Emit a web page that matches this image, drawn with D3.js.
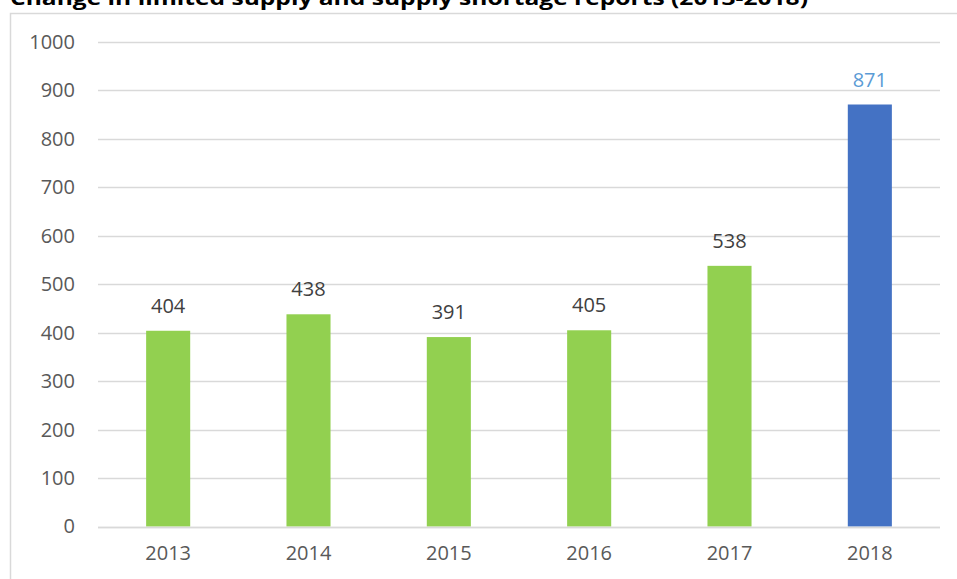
<html>
<head>
<script src="https://d3js.org/d3.v7.min.js"></script>
<style>
  body { margin: 0; background: #fff; }
  text { font-family: "Open Sans", "Liberation Sans", sans-serif; }
</style>
</head>
<body>
<script>
var years = ["2013", "2014", "2015", "2016", "2017", "2018"];
var reports = [404, 438, 391, 405, 538, 871];
var barColors = ["#92d050", "#92d050", "#92d050", "#92d050", "#92d050", "#4472c4"];
var labelColors = ["#404040", "#404040", "#404040", "#404040", "#404040", "#5b9bd5"];
var yTicks = [0, 100, 200, 300, 400, 500, 600, 700, 800, 900, 1000];
var title = "Change in limited supply and supply shortage reports (2013-2018)";

var w = 957, h = 579;
var plotL = 98, plotR = 940, plotT = 42, plotB = 526.5;

var svg = d3.select("body").append("svg").attr("width", w).attr("height", h);

// chart frame
svg.append("rect")
  .attr("x", 10.5).attr("y", 13.5)
  .attr("width", 960).attr("height", 600)
  .attr("fill", "none").attr("stroke", "#d9d9d9").attr("stroke-width", 1.5);

svg.append("text")
  .attr("x", 10).attr("y", 5)
  .attr("font-size", "20px").attr("font-weight", "bold")
  .attr("fill", "#000")
  .attr("textLength", 798).attr("lengthAdjust", "spacingAndGlyphs")
  .text(title);

var x = d3.scaleBand().domain(years).range([plotL, plotR]).paddingInner(0.686).paddingOuter(0.343);
var y = d3.scaleLinear().domain([0, 1000]).range([plotB, plotT]);

// gridlines
svg.append("g").selectAll("line").data(yTicks).join("line")
  .attr("x1", plotL).attr("x2", plotR)
  .attr("y1", function(d){ return Math.round(y(d)) + 0.5; })
  .attr("y2", function(d){ return Math.round(y(d)) + 0.5; })
  .attr("stroke", "#d9d9d9").attr("stroke-width", 1.5);

// y axis labels
var yAxis = d3.axisLeft(y).tickValues(yTicks).tickFormat(d3.format("d")).tickSize(0).tickPadding(0);
var gy = svg.append("g").attr("transform", "translate(75,0)").call(yAxis);
gy.select(".domain").remove();
gy.selectAll("text").attr("font-size", "20px").attr("fill", "#595959")
  .attr("font-family", "\"Open Sans\", \"Liberation Sans\", sans-serif");

// x axis labels
var xAxis = d3.axisBottom(x).tickSize(0).tickPadding(0);
var gx = svg.append("g").attr("transform", "translate(0," + (plotB + 19) + ")").call(xAxis);
gx.select(".domain").remove();
gx.selectAll("text").attr("font-size", "20px").attr("fill", "#595959")
  .attr("font-family", "\"Open Sans\", \"Liberation Sans\", sans-serif");

// bars
svg.append("g").selectAll("rect").data(reports).join("rect")
  .attr("x", function(d, i){ return x(years[i]); })
  .attr("width", x.bandwidth())
  .attr("y", function(d){ return y(d); })
  .attr("height", function(d){ return plotB - y(d); })
  .attr("fill", function(d, i){ return barColors[i]; });

// baseline over bars
svg.append("line")
  .attr("x1", plotL).attr("x2", plotR)
  .attr("y1", Math.round(plotB) + 0.5).attr("y2", Math.round(plotB) + 0.5)
  .attr("stroke", "#d9d9d9").attr("stroke-width", 1.5);

// value labels
svg.append("g").selectAll("text").data(reports).join("text")
  .attr("x", function(d, i){ return x(years[i]) + x.bandwidth() / 2; })
  .attr("y", function(d){ return y(d) - 18; })
  .attr("text-anchor", "middle")
  .attr("font-size", "20px")
  .attr("fill", function(d, i){ return labelColors[i]; })
  .text(function(d){ return d; });
</script>
</body>
</html>
